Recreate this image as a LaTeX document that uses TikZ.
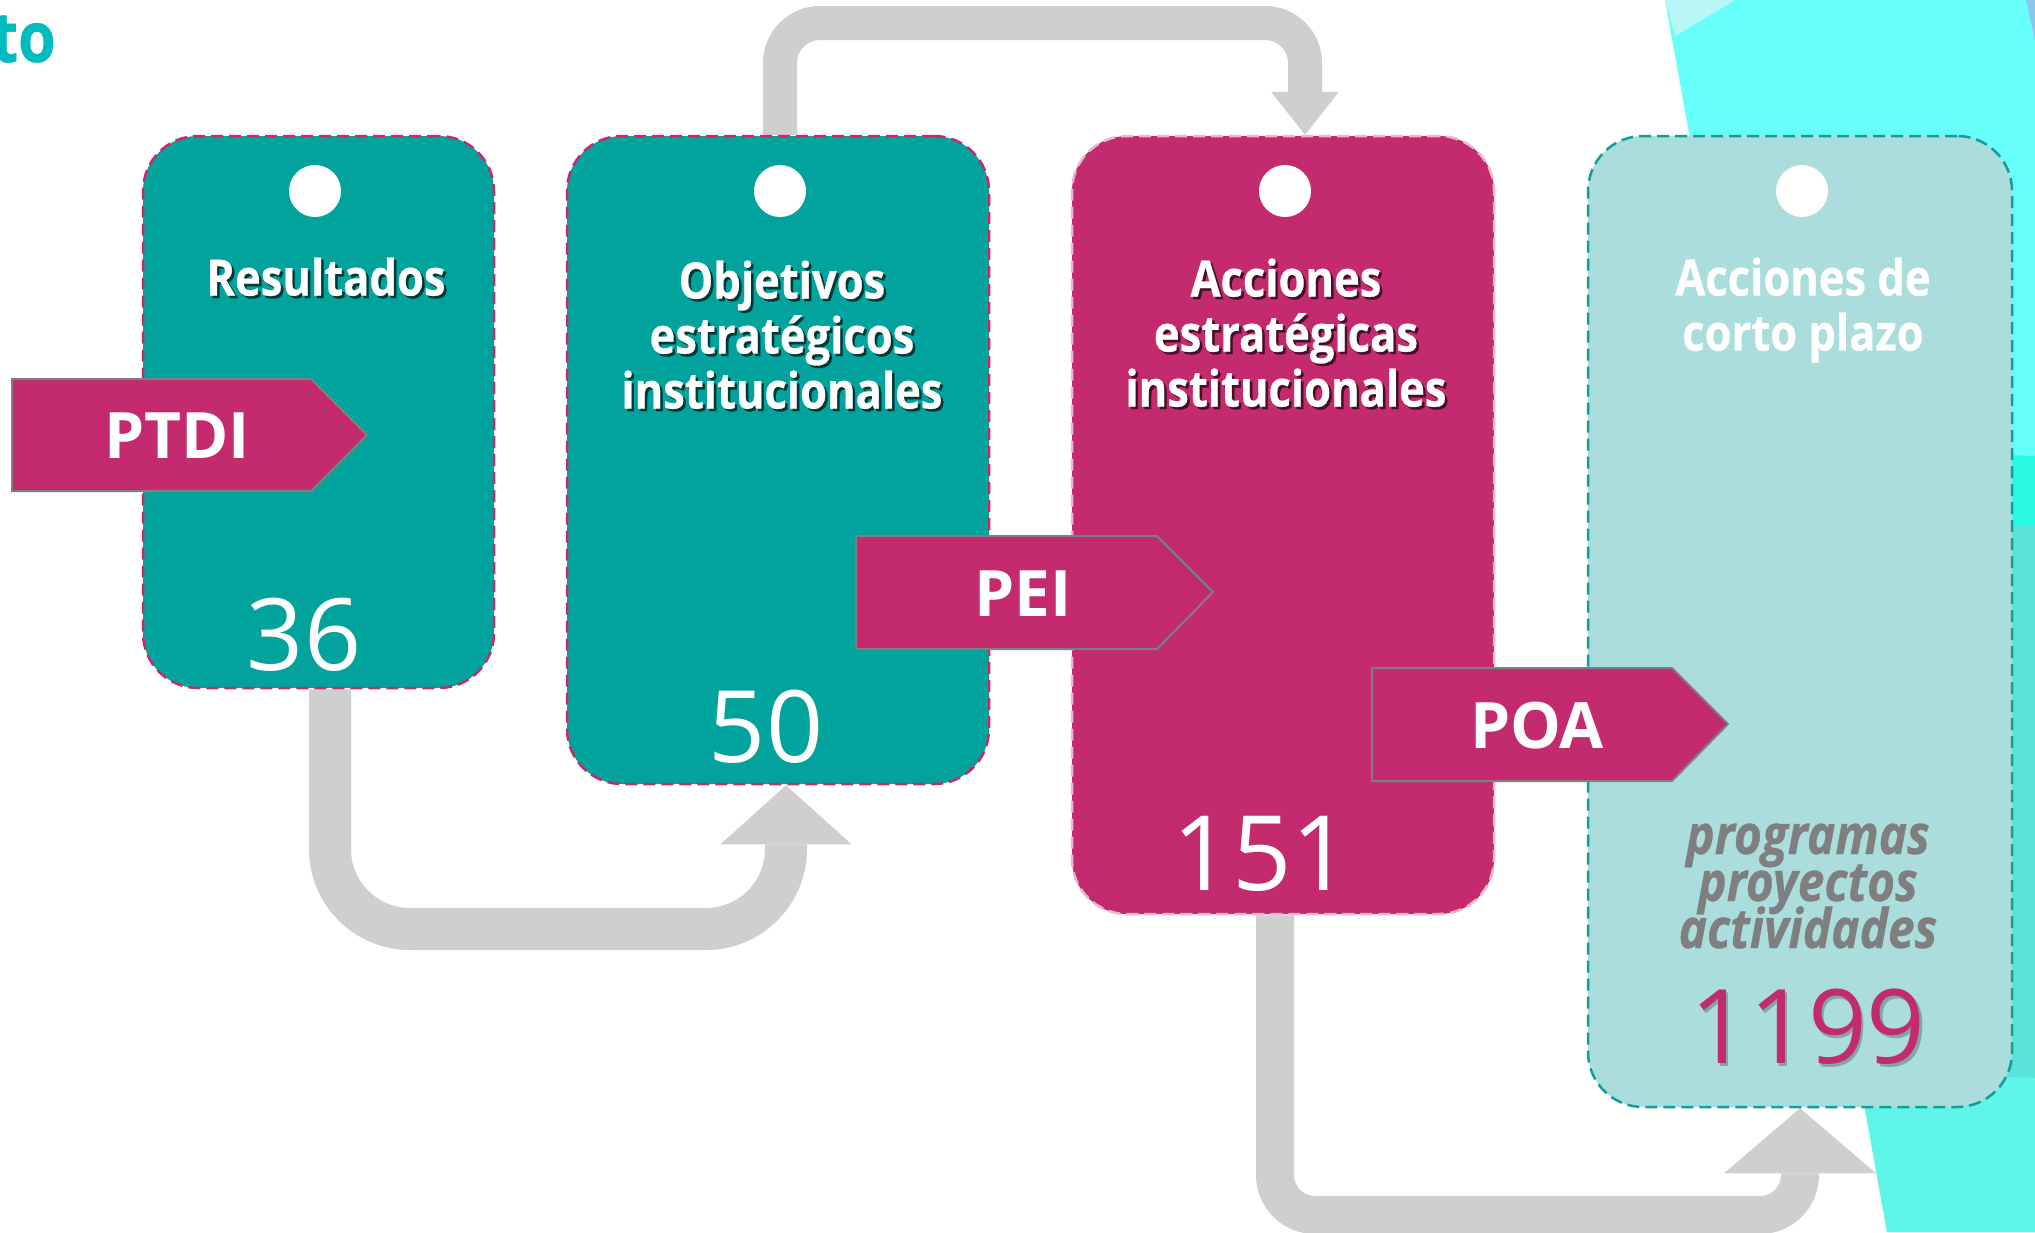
\documentclass[tikz,border=0pt]{standalone}
\usepackage{fontspec}
\setmainfont{Open Sans}
\newfontfamily\tfont[FakeStretch=0.87,FakeBold=0.6]{Open Sans}
\usetikzlibrary{arrows.meta}
\definecolor{tealbox}{HTML}{02A29D}
\definecolor{mag}{HTML}{C42B6F}
\definecolor{pale}{HTML}{ABDDDC}
\definecolor{paleedge}{HTML}{119E9A}
\definecolor{conn}{HTML}{D0CFD0}
\definecolor{cyanA}{HTML}{66FFFA}
\definecolor{cyanband}{HTML}{2AFAE0}
\definecolor{cyanmute}{HTML}{5CE3D7}
\definecolor{cyanlow}{HTML}{5FF5E8}
\definecolor{cyanpale}{HTML}{B8F7F6}
\definecolor{cornerblue}{HTML}{8CC8EC}
\definecolor{titleteal}{HTML}{00BBBF}
\definecolor{tagedge}{HTML}{7F7F7F}
\definecolor{italgray}{HTML}{7F7F7F}
\pgfdeclarelayer{bg}
\pgfdeclarelayer{links}
\pgfsetlayers{bg,links,main}
\newcommand\shd[2]{\makebox[0pt][l]{\hspace{2.5pt}\raisebox{-2.5pt}{\textcolor{#1}{#2}}}#2}
\begin{document}
\begin{tikzpicture}[x=1pt,y=-1pt,
  card/.style={dashed, dash pattern=on 12pt off 6pt, line width=2.5pt, rounded corners=55pt, inner sep=0pt},
  hole/.style={circle, fill=white, minimum size=52pt, inner sep=0pt},
  ttl/.style={text=white, font={\tfont\bfseries\fontsize{50pt}{55pt}\selectfont}, align=center, inner sep=0pt},
  num/.style={text=white, font={\fontsize{100pt}{100pt}\selectfont}, inner sep=0pt},
  tagshape/.style={fill=mag, draw=tagedge, line width=2pt},
  tagtext/.style={text=white, font={\bfseries\fontsize{64pt}{64pt}\selectfont}, inner sep=0pt},
  link/.style={draw=conn, line width=#1}
]
\useasboundingbox (0,0) rectangle (2035,1232);
\begin{pgfonlayer}{bg}
\fill[white] (0,0) rectangle (2035,1232);
\fill[cyanA] (1665,0) -- (2035,0) -- (2035,1232) -- (1887,1232) -- cycle;
\fill[cyanpale] (1665,0) -- (1735,0) -- (1675,36) -- cycle;
\fill[cyanband] (1900,452) -- (2035,456) -- (2035,528) -- (1900,528) -- cycle;
\fill[cyanmute] (1900,522) -- (2035,526) -- (2035,1078) -- (1900,1074) -- cycle;
\fill[cyanlow] (1859,1075) -- (2035,1078) -- (2035,1232) -- (1887,1232) -- cycle;
\fill[cornerblue] (2026,0) -- (2035,0) -- (2035,40) -- cycle;
\end{pgfonlayer}

\node[font={\tfont\bfseries\fontsize{70pt}{70pt}\selectfont}, text=titleteal, anchor=base east, inner sep=0pt] (head) at (56,62) {to};

% cards
\node[card, fill=tealbox, draw=mag, minimum width=351pt, minimum height=552pt] (b1) at (318.5,412) {};
\node[card, fill=tealbox, draw=mag, minimum width=422pt, minimum height=648pt] (b2) at (778,460) {};
\node[card, fill=mag, draw=mag!35!white, minimum width=422pt, minimum height=778pt] (b3) at (1283,525) {};
\node[card, fill=pale, draw=paleedge, minimum width=424pt, minimum height=971pt] (b4) at (1800,621.5) {};

\node[hole] (h1) at (315,191) {};
\node[hole] (h2) at (780,191) {};
\node[hole] (h3) at (1285,191) {};
\node[hole] (h4) at (1802,191) {};

\node[ttl] (t1) at (326,278) {\shd{tealbox!35!black}{Resultados}};
\node[ttl] (t2) at (782,336) {\shd{tealbox!35!black}{Objetivos}\\\shd{tealbox!35!black}{estratégicos}\\\shd{tealbox!35!black}{institucionales}};
\node[ttl] (t3) at (1286,334) {\shd{mag!35!black}{Acciones}\\\shd{mag!35!black}{estratégicas}\\\shd{mag!35!black}{institucionales}};
\node[ttl] (t4) at (1803,310) {Acciones de\\corto plazo};

\node[num] (n1) at (304,635) {36};
\node[num] (n2) at (766,727) {50};
\node[num, font={\fontsize{104pt}{104pt}\selectfont}] (n3) at (1262,854) {151};
\node[num, text=mag, font={\fontsize{103pt}{103pt}\selectfont}] (n4) at (1808,1028) {\shd{pale!75!black}{1199}};
\node[text=italgray, font={\tfont\bfseries\itshape\fontsize{55pt}{47pt}\selectfont\lineskiplimit=-100pt}, align=center, inner sep=0pt] (it) at (1808,886) {programas\\proyectos\\actividades};

% tags
\draw[tagshape] (12,379) -- (311,379) -- (367,435) -- (311,491) -- (12,491) -- cycle;
\node[tagtext] (ptdi) at (177,436) {PTDI};
\draw[tagshape] (856,536) -- (1157,536) -- (1213,592) -- (1157,649) -- (856,649) -- cycle;
\node[tagtext] (pei) at (1023,594) {PEI};
\draw[tagshape] (1372,668) -- (1672,668) -- (1728,724) -- (1672,781) -- (1372,781) -- cycle;
\node[tagtext] (poa) at (1537,726) {POA};

% connectors
\begin{pgfonlayer}{links}
\draw[link=42pt, rounded corners=80pt, -{Triangle[length=59pt 0 0, width=131pt 0 0, line width=0pt 0 0]}]
  ([xshift=11.5pt]b1.south) -- (330,929) -- (786,929) -- ([xshift=8pt]b2.south);
\draw[link=34pt, rounded corners=40pt, -{Triangle[length=43pt 0 0, width=68pt 0 0, line width=0pt 0 0]}]
  ([xshift=2pt]b2.north) -- (780,23) -- (1305,23) -- ([xshift=22pt]b3.north);
\draw[link=38pt, rounded corners=40pt, -{Triangle[length=65pt 0 0, width=152pt 0 0, line width=0pt 0 0]}]
  ([xshift=-8pt]b3.south) -- (1275,1215) -- (1800,1215) -- (b4.south);
\end{pgfonlayer}
\end{tikzpicture}
\end{document}
